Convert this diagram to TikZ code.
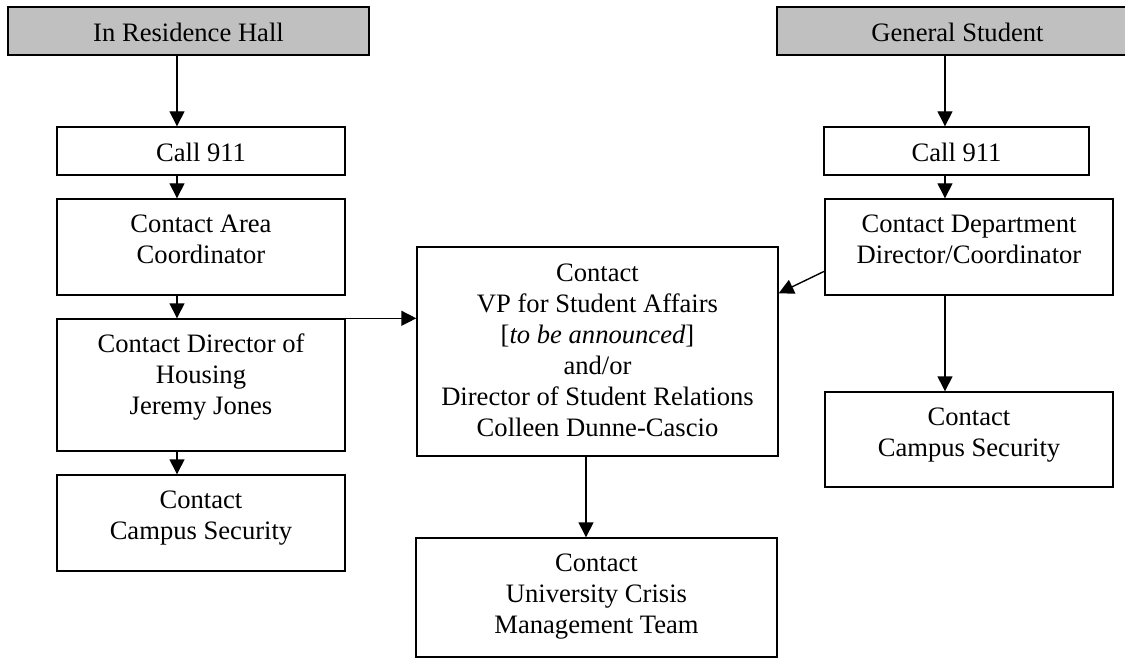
\documentclass[tikz,border=0pt]{standalone}
\usepackage{fontspec}
\setmainfont{Liberation Serif}
\usetikzlibrary{arrows.meta,calc}
\definecolor{hdrgray}{RGB}{192,192,192}
\tikzset{
  boxst/.style={draw=black, line width=0.7pt, inner sep=0pt, fill=white},
  hdrst/.style={boxst, fill=hdrgray},
  txt/.style={anchor=north, inner sep=0pt, align=center, font=\fontsize{13.3pt}{15.5pt}\selectfont},
  arr/.style={line width=0.7pt, -{Triangle[length=7.5pt,width=7.5pt]}},
}
\newcommand\mkbox[6]{%
  \node[#2, minimum width={(#5-#3)*0.5pt}, minimum height={(#6-#4)*0.5pt}] (#1) at ({(#3+#5)/2},{(#4+#6)/2}) {};}
\begin{document}
\begin{tikzpicture}[x=0.5pt,y=-0.5pt]
\useasboundingbox (0,0) rectangle (1125,658);
% boxes
\mkbox{top1}{hdrst}{8}{7}{369}{55}
\mkbox{top2}{hdrst}{777}{7}{1138}{55}
\mkbox{call1}{boxst}{57}{127}{345}{175}
\mkbox{area}{boxst}{57}{199}{345}{295}
\mkbox{house}{boxst}{57}{319}{345}{451}
\mkbox{sec1}{boxst}{57}{475}{345}{571}
\mkbox{mid}{boxst}{417}{247}{778}{456}
\mkbox{crisis}{boxst}{416}{538}{777}{657}
\mkbox{call2}{boxst}{824}{127}{1089}{175}
\mkbox{dept}{boxst}{825}{199}{1113}{295}
\mkbox{sec2}{boxst}{825}{392}{1113}{487}
% texts
\node[txt] (top1t) at ($(top1.north)+(0,11)$) {\rule{0pt}{0.9em}In Residence Hall};
\node[txt] (top2t) at ($(top2.north)+(0,11)$) {\rule{0pt}{0.9em}General Student};
\node[txt] (call1t) at ($(call1.north)+(0,11)$) {\rule{0pt}{0.9em}Call 911};
\node[txt] (areat) at ($(area.north)+(0,10)$) {\rule{0pt}{0.9em}Contact Area\\Coordinator};
\node[txt] (houset) at ($(house.north)+(0,10)$) {\rule{0pt}{0.9em}Contact Director of\\Housing\\Jeremy Jones};
\node[txt] (sec1t) at ($(sec1.north)+(0,10)$) {\rule{0pt}{0.9em}Contact\\Campus Security};
\node[txt] (midt) at ($(mid.north)+(0,11)$) {\rule{0pt}{0.9em}Contact\\VP for Student Affairs\\{}[\textit{to be announced}]\\and/or\\Director of Student Relations\\Colleen Dunne-Cascio};
\node[txt] (crisist) at ($(crisis.north)+(0,10)$) {\rule{0pt}{0.9em}Contact\\University Crisis\\Management Team};
\node[txt] (call2t) at ($(call2.north)+(0,11)$) {\rule{0pt}{0.9em}Call 911};
\node[txt] (deptt) at ($(dept.north)+(0,10)$) {\rule{0pt}{0.9em}Contact Department\\Director/Coordinator};
\node[txt] (sec2t) at ($(sec2.north)+(0,10)$) {\rule{0pt}{0.9em}Contact\\Campus Security};
% connector columns
\coordinate (colL) at (177,0);
\coordinate (colR) at (945,0);
\coordinate (colM) at (586,0);
% connectors
\draw[arr] (top1.south -| colL) -- (call1.north -| colL);
\draw[arr] (call1.south -| colL) -- (area.north -| colL);
\draw[arr] (area.south -| colL) -- (house.north -| colL);
\draw[arr] (house.south -| colL) -- (sec1.north -| colL);
\draw[arr] (house.north east) -- (house.north east -| mid.west);
\draw[arr] (top2.south -| colR) -- (call2.north -| colR);
\draw[arr] (call2.south -| colR) -- (dept.north -| colR);
\draw[arr] (dept.south -| colR) -- (sec2.north -| colR);
\draw[arr] ($(dept.north west)+(0,73)$) -- ($(mid.north east)+(0,47)$);
\draw[arr] (mid.south -| colM) -- (crisis.north -| colM);
\end{tikzpicture}
\end{document}
